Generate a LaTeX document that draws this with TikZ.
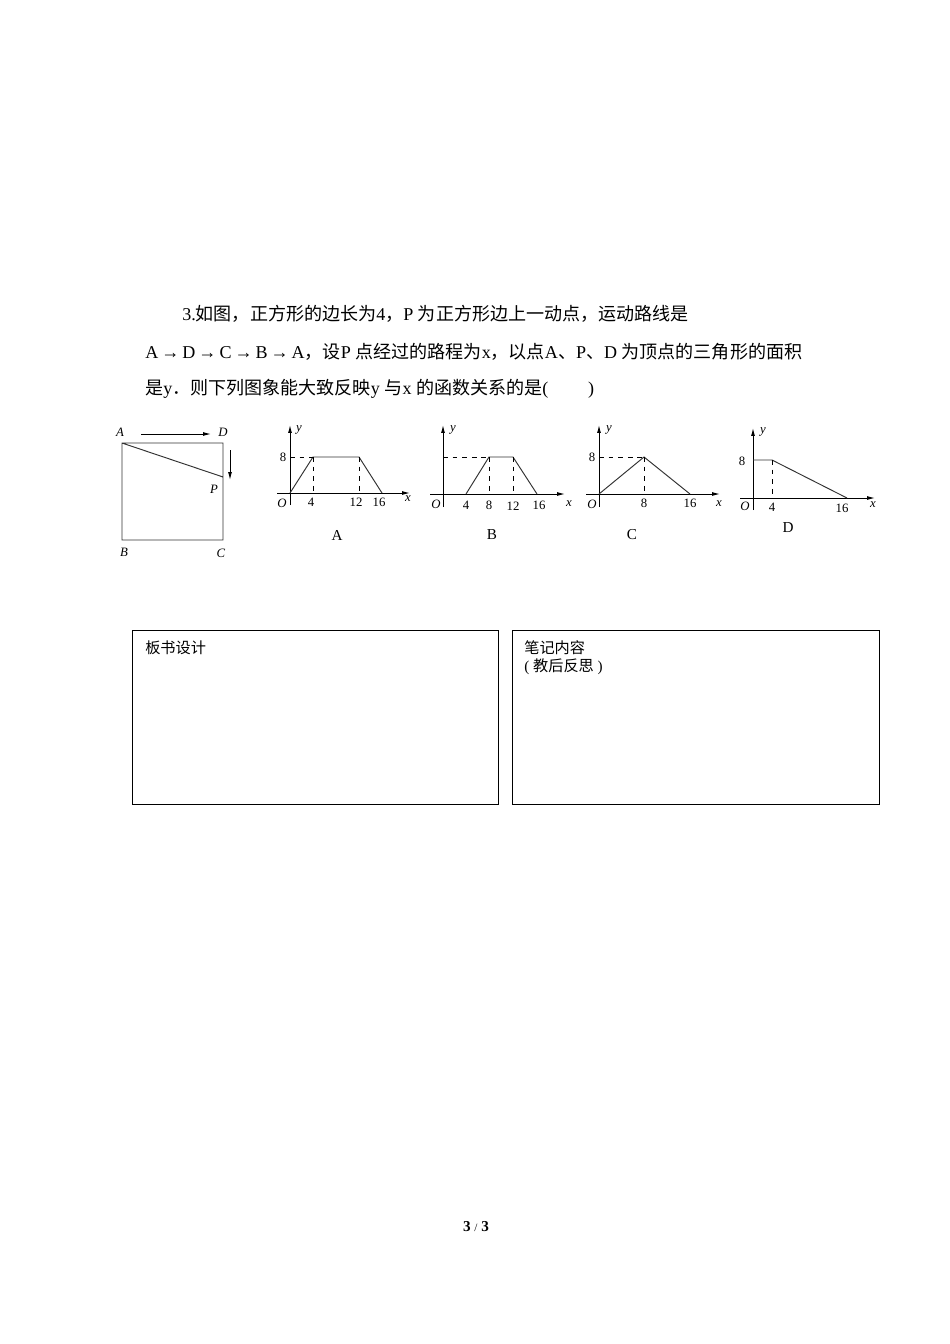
\documentclass[tikz,border=0pt]{standalone}
\usepackage{fontspec}
\setmainfont{Liberation Serif}
\newfontfamily\cjk{Noto Sans CJK SC}
\usetikzlibrary{arrows.meta}
\begin{document}
\begin{tikzpicture}[x=0.626pt,y=-0.626pt,
  ln/.style={line width=0.6pt,black!80},
  dsh/.style={dashed,line width=0.5pt},
  ax/.style={line width=0.6pt,-{Latex[length=5pt,width=2.5pt]}},
  lb/.style={font=\fontsize{8}{9}\selectfont\itshape,inner sep=0pt},
  nm/.style={font=\fontsize{8}{9}\selectfont,inner sep=0pt},
  gcap/.style={font=\fontsize{9.5}{10}\selectfont,inner sep=0pt},
  tx/.style={font=\fontsize{11.3}{12}\selectfont,anchor=west,inner sep=0pt}]
\useasboundingbox (0,0) rectangle (950,1344);
\node[tx] (t1) at (182,314) {3.{\cjk 如图，正方形的边长为}4{\cjk ，}P {\cjk 为正方形边上一动点，运动路线是}};
\node[tx] (t2) at (145,352) {A\,\textrightarrow\,D\,\textrightarrow\,C\,\textrightarrow\,B\,\textrightarrow\,A{\cjk ，设}P {\cjk 点经过的路程为}x{\cjk ，以点}A{\cjk 、}P{\cjk 、}D {\cjk 为顶点的三角形的面积}};
\node[tx] (t3) at (145,389) {{\cjk 是}y{\cjk ．则下列图象能大致反映}y {\cjk 与}x {\cjk 的函数关系的是}(\hspace{2.2em})};
% square
\coordinate (A) at (122,443); \coordinate (D) at (223,443);
\coordinate (C) at (223,540); \coordinate (B) at (122,540);
\coordinate (P) at (223,477);
\draw[ln] (A)--(D)--(C)--(B)--cycle (A)--(P);
\node[lb] (la) at (120,432) {A}; \node[lb] (ld) at (223,432) {D};
\node[lb] (lp) at (214,489) {P}; \node[lb] (lbb) at (124,552) {B}; \node[lb] (lc) at (221,553) {C};
\coordinate (r1) at (141,434); \coordinate (r2) at (211,434);
\draw[ax] (r1)--(r2);
\coordinate (d1) at (230,450); \coordinate (d2) at (230,480);
\draw[ax] (d1)--(d2);
% graph A
\draw[ax] (277,493)--(410,493); \draw[ax] (290,505)--(290,425);
\draw[ln] (290,493)--(313,457)--(359,457)--(382,493);
\draw[dsh] (290,457)--(313,457) (313,457)--(313,493) (359,457)--(359,493);
\node[lb] at (299,430) {y}; \node[nm] at (283,457) {8}; \node[lb] at (282,503) {O};
\node[nm] at (311,502) {4}; \node[nm] at (356,502) {12}; \node[nm] at (379,502) {16}; \node[lb] at (408,499) {x};
\node[gcap] at (337,535) {A};
% graph B
\draw[ax] (430,494)--(565,494); \draw[ax] (443,507)--(443,425);
\draw[ln] (466,494)--(489,457)--(513,457)--(537,494);
\draw[dsh] (443,457)--(489,457) (489,457)--(489,494) (513,457)--(513,494);
\node[lb] at (453,430) {y}; \node[lb] at (436,504) {O};
\node[nm] at (466,505) {4}; \node[nm] at (489,505) {8}; \node[nm] at (513,506) {12}; \node[nm] at (539,505) {16}; \node[lb] at (569,504) {x};
\node[gcap] at (492,535) {B};
% graph C
\draw[ax] (586,494)--(720,494); \draw[ax] (599,507)--(599,425);
\draw[ln] (599,494)--(644,457)--(690,494);
\draw[dsh] (599,457)--(644,457) (644,457)--(644,494);
\node[lb] at (609,430) {y}; \node[nm] at (592,457) {8}; \node[lb] at (592,504) {O};
\node[nm] at (644,503) {8}; \node[nm] at (690,503) {16}; \node[lb] at (719,504) {x};
\node[gcap] at (632,535) {C};
% graph D
\draw[ax] (740,498)--(875,498); \draw[ax] (753,510)--(753,428);
\draw[ln] (753,460)--(772,460)--(847,498);
\draw[dsh] (772,460)--(772,498);
\node[lb] at (763,432) {y}; \node[nm] at (742,461) {8}; \node[lb] at (745,506) {O};
\node[nm] at (772,507) {4}; \node[nm] at (842,508) {16}; \node[lb] at (873,505) {x};
\node[gcap] at (788,528) {D};
% boxes
\draw[line width=0.6pt] (132,630) rectangle (498,804);
\draw[line width=0.6pt] (512,630) rectangle (879,804);
\node[tx,font=\fontsize{9.5}{10}\selectfont\cjk] (bs) at (145,648) {板书设计};
\node[tx,font=\fontsize{9.5}{10}\selectfont\cjk] (bj) at (524,648) {笔记内容};
\node[tx,font=\fontsize{9.5}{10}\selectfont] (fs) at (524,667) {( {\cjk 教后反思} )};
\node[font=\fontsize{9.5}{10}\selectfont\bfseries,inner sep=0pt] (pg) at (476,1227) {3 {\mdseries\fontsize{7}{8}\selectfont/} 3};
\end{tikzpicture}
\end{document}
